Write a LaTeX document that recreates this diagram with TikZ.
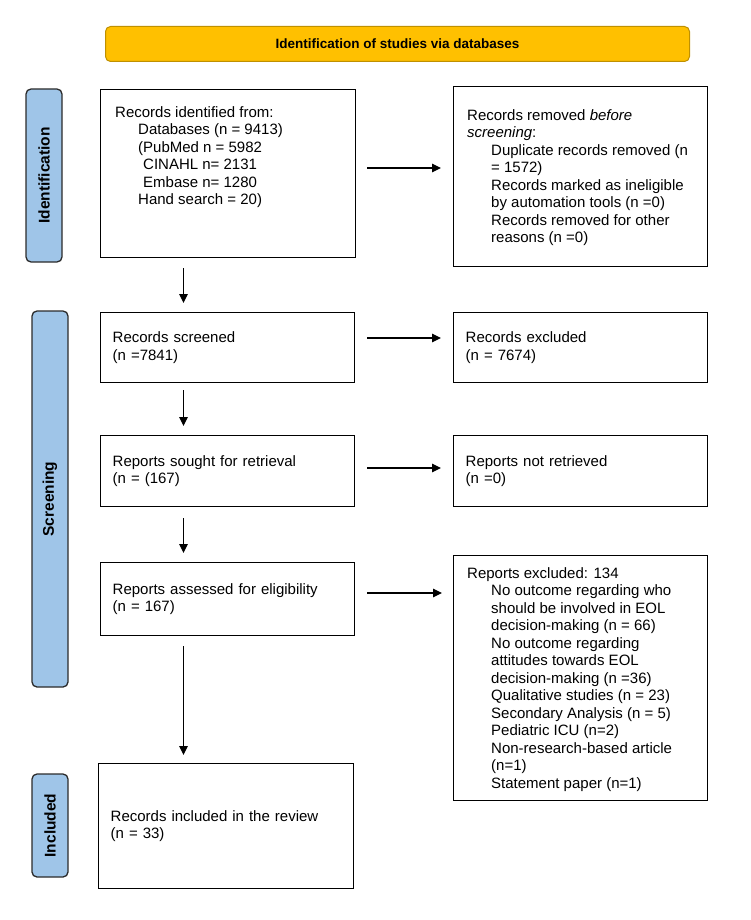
\documentclass[tikz,border=0pt]{standalone}
\usepackage{fontspec}
\setmainfont{Liberation Sans}
\usetikzlibrary{arrows.meta,calc}
\definecolor{barblue}{HTML}{9FC5E8}
\definecolor{barline}{HTML}{2B2B2B}
\definecolor{bannerfill}{HTML}{FFC000}
\definecolor{bannerline}{HTML}{BF9000}
\newcommand\bodyfont{\fontsize{15pt}{17.5pt}\selectfont}
\newcommand\barfont{\bfseries\fontsize{15.5pt}{18pt}\selectfont}
\begin{document}
\begin{tikzpicture}[x=1pt,y=-1pt,
  box/.style={draw, line width=1.4pt, rectangle, inner sep=0pt, anchor=north west},
  txt/.style={anchor=north west, inner sep=0pt, align=left, font=\bodyfont},
  ctxt/.style={draw, line width=1.4pt, rectangle, anchor=north west, align=left, font=\bodyfont, inner xsep=12pt, inner ysep=0pt, text width=230pt},
  bar/.style={draw=barline, fill=barblue, rounded corners=5pt, line width=1.3pt, rotate=90, font=\barfont, inner sep=0pt, minimum height=36pt},
  arr/.style={-{Triangle[length=9pt,width=8.5pt]}, line width=1.1pt}
]
\useasboundingbox (0,0) rectangle (750,920);

% banner
\node[draw=bannerline, fill=bannerfill, rounded corners=5pt, line width=1pt, minimum width=584pt, minimum height=35pt, anchor=north west, inner sep=0pt, font=\bfseries\fontsize{13.5pt}{16pt}\selectfont] (banner) at (105,26) {Identification of studies via databases};

% phase bars
\node[bar, minimum width=173pt] (idbar) at (44,175.5) {Identification};
\node[bar, minimum width=376pt] (scbar) at (50,499) {Screening};
\node[bar, minimum width=103pt] (inbar) at (50,825.5) {Included};

% identification
\node[box, minimum width=255pt, minimum height=168pt] (b1) at (100,89) {};
\node[txt] (t1) at (115,106) {Records identified from:\\
\hspace*{23pt}Databases (n = 9413)\\
\hspace*{23pt}(PubMed n = 5982\\
\hspace*{28pt}CINAHL n= 2131\\
\hspace*{28pt}Embase n= 1280\\
\hspace*{23pt}Hand search = 20)};

\node[box, minimum width=254pt, minimum height=180pt] (removed) at (453,86) {};
\node[txt] (t2) at (467,109) {Records removed \textit{before}\\
\textit{screening}:\\
\hspace*{24pt}Duplicate records removed (n\\
\hspace*{24pt}= 1572)\\
\hspace*{24pt}Records marked as ineligible\\
\hspace*{24pt}by automation tools (n =0)\\
\hspace*{24pt}Records removed for other\\
\hspace*{24pt}reasons (n =0)};

% screening
\node[ctxt, minimum height=70pt] (screened) at (100,312) {Records screened\\(n =7841)};
\node[ctxt, minimum height=70pt] (excl) at (453,312) {Records excluded\\(n = 7674)};
\node[ctxt, minimum height=71pt] (sought) at (100,435) {Reports sought for retrieval\\(n = (167)};
\node[ctxt, minimum height=71pt] (notret) at (453,435) {Reports not retrieved\\(n =0)};
\node[ctxt, minimum height=73pt] (assessed) at (100,562) {Reports assessed for eligibility\\(n = 167)};

\node[box, minimum width=254pt, minimum height=245pt] (repexcl) at (453,555) {};
\node[txt] (t3) at (467,567) {Reports excluded: 134\\
\hspace*{24pt}No outcome regarding who\\
\hspace*{24pt}should be involved in EOL\\
\hspace*{24pt}decision-making (n = 66)\\
\hspace*{24pt}No outcome regarding\\
\hspace*{24pt}attitudes towards EOL\\
\hspace*{24pt}decision-making (n =36)\\
\hspace*{24pt}Qualitative studies (n = 23)\\
\hspace*{24pt}Secondary Analysis (n = 5)\\
\hspace*{24pt}Pediatric ICU (n=2)\\
\hspace*{24pt}Non-research-based article\\
\hspace*{24pt}(n=1)\\
\hspace*{24pt}Statement paper (n=1)};

% included
\node[ctxt, minimum height=125pt, text width=231pt] (included) at (98,763) {Records included in the review\\(n = 33)};

% vertical connectors
\coordinate (ax) at (183.5,0);
\draw[arr, shorten <=10pt, shorten >=9pt] (ax |- b1.south) -- (ax |- screened.north);
\draw[arr, shorten <=7pt, shorten >=9pt] (ax |- screened.south) -- (ax |- sought.north);
\draw[arr, shorten <=11pt, shorten >=9pt] (ax |- sought.south) -- (ax |- assessed.north);
\draw[arr, shorten <=10pt, shorten >=8pt] (ax |- assessed.south) -- (ax |- included.north);

% horizontal connectors
\coordinate (h1) at (0,168);
\coordinate (h2) at (0,338);
\coordinate (h3) at (0,468);
\coordinate (h4) at (0,593);
\draw[arr, shorten <=11pt, shorten >=12pt] (h1 -| b1.east) -- (h1 -| removed.west);
\draw[arr, shorten <=12pt, shorten >=12pt] (h2 -| screened.east) -- (h2 -| excl.west);
\draw[arr, shorten <=12pt, shorten >=12pt] (h3 -| sought.east) -- (h3 -| notret.west);
\draw[arr, shorten <=12pt, shorten >=11pt] (h4 -| assessed.east) -- (h4 -| repexcl.west);
\end{tikzpicture}
\end{document}
